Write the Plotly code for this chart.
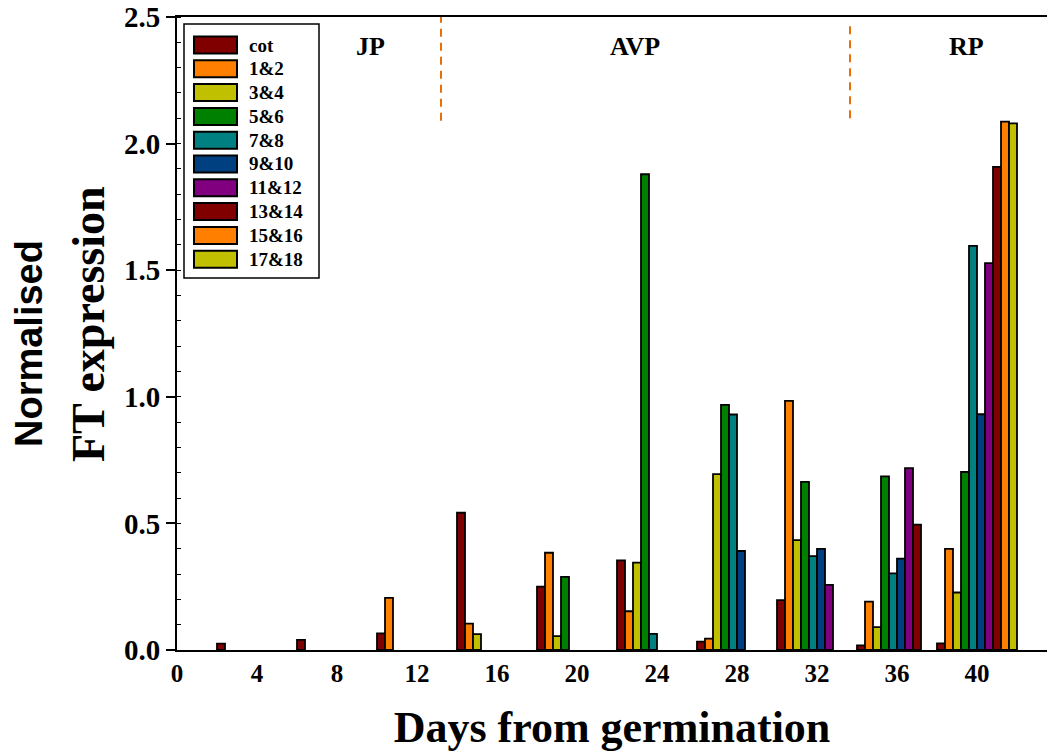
import plotly.graph_objects as go

# ---------------- data ----------------
days = [4, 8, 12, 16, 20, 24, 28, 32, 36, 40]
series_names = ["cot", "1&2", "3&4", "5&6", "7&8", "9&10", "11&12", "13&14", "15&16", "17&18"]
series_colors = ["#800000", "#FF8000", "#C0C000", "#008000", "#008080",
                 "#004080", "#800080", "#800000", "#FF8000", "#C0C000"]

cot =    [0.025, 0.040, 0.066, 0.542, 0.250, 0.354, 0.033, 0.197, 0.018, 0.026]
l1_2 =   [None, None, 0.206, 0.104, 0.384, 0.153, 0.045, 0.984, 0.191, 0.399]
l3_4 =   [None, None, None, 0.063, 0.055, 0.345, 0.695, 0.434, 0.090, 0.227]
l5_6 =   [None, None, None, None, 0.289, 1.879, 0.968, 0.664, 0.686, 0.703]
l7_8 =   [None, None, None, None, None, 0.064, 0.930, 0.371, 0.303, 1.596]
l9_10 =  [None, None, None, None, None, None, 0.391, 0.399, 0.361, 0.931]
l11_12 = [None, None, None, None, None, None, None, 0.257, 0.718, 1.528]
l13_14 = [None, None, None, None, None, None, None, None, 0.495, 1.908]
l15_16 = [None, None, None, None, None, None, None, None, None, 2.087]
l17_18 = [None, None, None, None, None, None, None, None, None, 2.080]
series_values = [cot, l1_2, l3_4, l5_6, l7_8, l9_10, l11_12, l13_14, l15_16, l17_18]

phase_labels = ["JP", "AVP", "RP"]
phase_label_x = [9.65, 22.9, 39.45]
phase_boundaries = [13.2, 33.65]

x_ticks = [0, 4, 8, 12, 16, 20, 24, 28, 32, 36, 40]
y_ticks = [0.0, 0.5, 1.0, 1.5, 2.0, 2.5]

# ---------------- layout constants ----------------
W, H = 1051, 752
ML, MR, MT, MB = 177, 4, 17, 102
PW, PH = W - ML - MR, H - MT - MB
SERIF = "Liberation Serif, Times New Roman, serif"
SANS = "Liberation Sans, Arial, sans-serif"
BAR_W = 0.4
N_SLOTS = len(series_names)


def px_x(p):
    return (p - ML) / PW


def px_y(p):
    return (H - MB - p) / PH


fig = go.Figure()
for i, (name, color, vals) in enumerate(zip(series_names, series_colors, series_values)):
    fig.add_trace(go.Bar(
        x=days, y=vals, name=name, width=BAR_W, offset=BAR_W * (i - N_SLOTS / 2),
        marker=dict(color=color, line=dict(color="black", width=1.8)),
        showlegend=False,
    ))

shapes = []
for xb, y0, y1 in zip(phase_boundaries, [2.09, 2.10], [2.5, 2.475]):
    shapes.append(dict(type="line", xref="x", yref="y", x0=xb, x1=xb, y0=y0, y1=y1,
                       line=dict(color="#E8700A", width=2, dash="8px,6px")))

annotations = []
for lab, lx in zip(phase_labels, phase_label_x):
    annotations.append(dict(x=lx, y=2.385, xref="x", yref="y", text=lab, showarrow=False,
                            font=dict(family=SERIF, size=26, color="black", weight="bold")))

# custom legend (box, swatches, labels)
leg_x0, leg_x1, leg_y0, leg_y1 = 184, 319, 24, 278
shapes.append(dict(type="rect", xref="paper", yref="paper",
                   x0=px_x(leg_x0), x1=px_x(leg_x1), y0=px_y(leg_y1), y1=px_y(leg_y0),
                   line=dict(color="black", width=1.5), fillcolor="white", layer="above"))
for k, (name, color) in enumerate(zip(series_names, series_colors)):
    cy = 45 + 23.8 * k
    shapes.append(dict(type="rect", xref="paper", yref="paper",
                       x0=px_x(194), x1=px_x(237), y0=px_y(cy + 8.5), y1=px_y(cy - 8.5),
                       line=dict(color="black", width=2), fillcolor=color, layer="above"))
    annotations.append(dict(x=px_x(247), y=px_y(cy), xref="paper", yref="paper",
                            xanchor="left", yanchor="middle", text=name, showarrow=False,
                            font=dict(family=SERIF, size=19, color="black", weight="bold")))

# y-axis title (two lines with different fonts)
annotations.append(dict(x=px_x(29), y=px_y(344), xref="paper", yref="paper", text="Normalised",
                        textangle=-90, showarrow=False, xanchor="center", yanchor="middle",
                        font=dict(family=SANS, size=38, color="black", weight="bold")))
annotations.append(dict(x=px_x(88), y=px_y(324), xref="paper", yref="paper", text="FT expression",
                        textangle=-90, showarrow=False, xanchor="center", yanchor="middle",
                        font=dict(family=SERIF, size=46, color="black", weight="bold")))

fig.update_layout(
    width=W, height=H,
    margin=dict(l=ML, r=MR, t=MT, b=MB, autoexpand=False),
    paper_bgcolor="white", plot_bgcolor="white",
    barmode="overlay",
    shapes=shapes, annotations=annotations,
    xaxis=dict(
        range=[0, 43.5], tickmode="array", tickvals=x_ticks, ticktext=[str(t) for t in x_ticks],
        showgrid=False, zeroline=False, showline=True, linecolor="black", linewidth=2,
        mirror=True, ticks="",
        tickfont=dict(family=SERIF, size=25, color="black", weight="bold"),
        title=dict(text="Days from germination", standoff=26,
                   font=dict(family=SERIF, size=44, color="black", weight="bold")),
    ),
    yaxis=dict(
        range=[0, 2.5], tickmode="array", tickvals=y_ticks, ticktext=[f"{t:.1f}" for t in y_ticks],
        showgrid=False, zeroline=False, showline=True, linecolor="black", linewidth=2,
        ticks="outside", ticklen=9, tickwidth=1.5, tickcolor="black",
        minor=dict(ticks="inside", dtick=0.1, ticklen=4, tickwidth=1, tickcolor="black"),
        tickfont=dict(family=SERIF, size=29, color="black", weight="bold"),
    ),
)

fig.write_html("out.html")
